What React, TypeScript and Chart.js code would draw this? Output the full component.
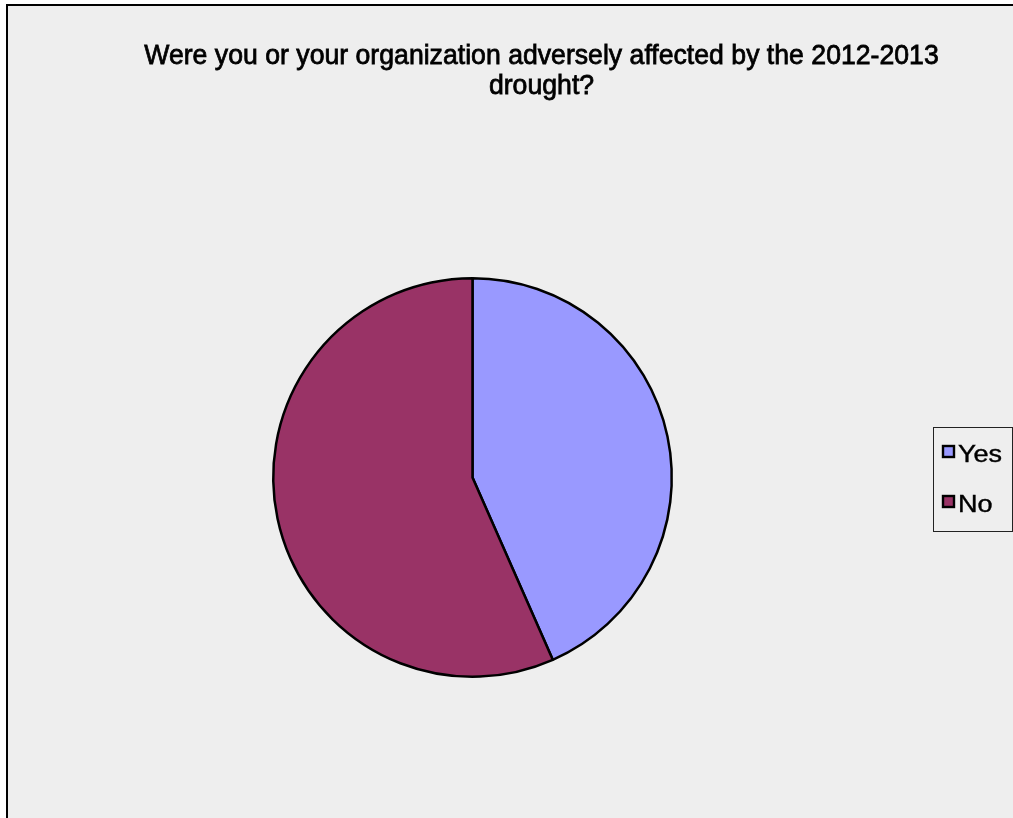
import React, { useEffect, useRef } from "react";
import { Chart, registerables } from "chart.js";

Chart.register(...registerables);

const TITLE_LINES = [
  "Were you or your organization adversely affected by the 2012-2013",
  "drought?",
];
const CATEGORIES = ["Yes", "No"];
const VALUES = [43.4, 56.6];
const COLORS = ["#9999FF", "#993366"];

const FONT_FAMILY = "'Liberation Sans', Arial, sans-serif";

const excelTitle = {
  id: "excelTitle",
  afterDraw(chart: any) {
    const ctx = chart.ctx as CanvasRenderingContext2D;
    TITLE_LINES.forEach((line, i) => {
      ctx.save();
      ctx.translate(533.5, 58 + i * 30);
      ctx.scale(0.935, 1);
      ctx.font = `28.5px ${FONT_FAMILY}`;
      ctx.fillStyle = "#000";
      ctx.strokeStyle = "#000";
      ctx.lineWidth = 0.8;
      ctx.textAlign = "center";
      ctx.textBaseline = "alphabetic";
      ctx.fillText(line, 0, 0);
      ctx.strokeText(line, 0, 0);
      ctx.restore();
    });
  },
};

const excelLegend = {
  id: "excelLegend",
  afterDraw(chart: any) {
    const ctx = chart.ctx as CanvasRenderingContext2D;
    const labels: string[] = chart.data.labels;
    const colors: string[] = chart.data.datasets[0].backgroundColor;
    const boxX = 925, boxY = 421, boxW = 79, boxH = 104;
    ctx.save();
    ctx.fillStyle = "#eeeeee";
    ctx.fillRect(boxX, boxY, boxW, boxH);
    ctx.strokeStyle = "#222";
    ctx.lineWidth = 1;
    ctx.strokeRect(boxX + 0.5, boxY + 0.5, boxW, boxH);
    labels.forEach((lab, i) => {
      const y = 440 + i * 50;
      ctx.fillStyle = colors[i];
      ctx.fillRect(935, y, 11, 11);
      ctx.strokeStyle = "#000";
      ctx.lineWidth = 2.4;
      ctx.strokeRect(935, y, 11, 11);
      ctx.save();
      ctx.translate(950, y + 16);
      ctx.scale(1.15, 1);
      ctx.font = `23.5px ${FONT_FAMILY}`;
      ctx.fillStyle = "#000";
      ctx.strokeStyle = "#000";
      ctx.lineWidth = 0.4;
      ctx.textAlign = "left";
      ctx.textBaseline = "alphabetic";
      ctx.fillText(lab, 0, 0);
      ctx.strokeText(lab, 0, 0);
      ctx.restore();
    });
    ctx.restore();
  },
};

export default function App() {
  const ref = useRef<HTMLCanvasElement | null>(null);

  useEffect(() => {
    if (!ref.current) return;
    const chart = new Chart(ref.current, {
      type: "pie",
      data: {
        labels: CATEGORIES,
        datasets: [
          {
            data: VALUES,
            backgroundColor: COLORS,
            borderColor: "#000",
            borderWidth: 2.5,
            hoverOffset: 0,
          },
        ],
      },
      options: {
        responsive: false,
        animation: false,
        layout: { padding: { left: 264, right: 340, top: 271, bottom: 140 } },
        plugins: {
          legend: { display: false },
          title: { display: false },
          tooltip: { enabled: false },
        },
      },
      plugins: [excelTitle, excelLegend],
    });
    return () => chart.destroy();
  }, []);

  return (
    <div
      style={{
        position: "fixed",
        left: 0,
        top: 0,
        width: 1013,
        height: 818,
        overflow: "hidden",
        background: "#fff",
      }}
    >
      <div
        style={{
          position: "absolute",
          left: 6,
          top: 4,
          width: 1100,
          height: 900,
          background: "#eeeeee",
          borderLeft: "2px solid #000",
          borderTop: "2px solid #000",
        }}
      >
        <canvas ref={ref} width={1005} height={812} style={{ display: "block" }} />
      </div>
    </div>
  );
}
